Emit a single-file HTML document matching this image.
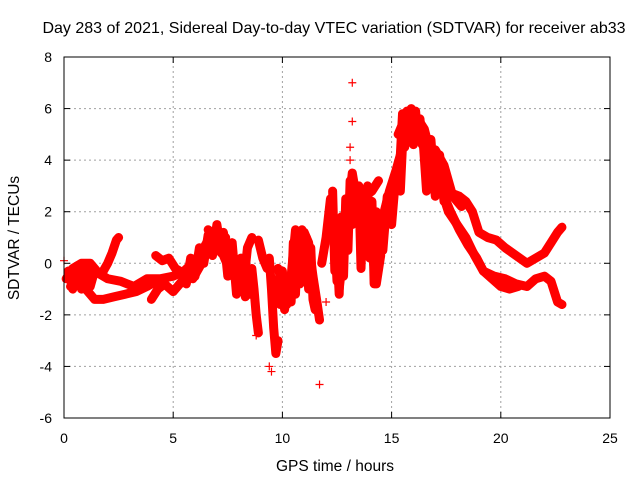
<!DOCTYPE html>
<html><head><meta charset="utf-8"><style>
html,body{margin:0;padding:0;background:#fff}
svg{display:block;font-family:"Liberation Sans",sans-serif}
</style></head><body>
<svg id="chart" width="640" height="480" viewBox="0 0 640 480">
<rect x="0" y="0" width="640" height="480" fill="#fff"/>
<text x="334" y="33" text-anchor="middle" font-size="16" fill="#000">Day 283 of 2021, Sidereal Day-to-day VTEC variation (SDTVAR) for receiver ab33</text>
<g id="grid"></g>
<g id="marks"></g>
<rect x="64" y="57" width="546" height="361" fill="none" stroke="#000" stroke-width="1"/>
<g id="ticks"></g>
<text x="335" y="471" text-anchor="middle" font-size="15.5">GPS time / hours</text>
<text transform="translate(19,238) rotate(-90)" text-anchor="middle" font-size="15.5">SDTVAR / TECUs</text>
</svg>
<script>
const xTicks = [0,5,10,15,20,25];
const yTicks = [-6,-4,-2,0,2,4,6,8];
// satellite arcs: times (hours) and values (TECU)
const times1 = [0.1,0.4,0.8,1.2,1.6,2.0,2.6,3.2,3.8,4.4,5.0,5.5,6.0,6.4,6.8,7.2];
const values1 = [-0.6,-0.2,0.0,0.0,-0.4,-0.6,-0.7,-0.9,-0.6,-0.6,-0.5,-0.3,0.1,0.6,1.2,1.0];
const times2 = [0.3,0.6,1.0,1.4,1.8,2.3,2.8,3.3,3.8,4.2];
const values2 = [-0.9,-0.8,-1.0,-1.4,-1.4,-1.3,-1.2,-1.1,-0.9,-0.7];
const times3 = [1.8,2.0,2.2,2.4,2.5];
const values3 = [-0.3,0.0,0.4,0.9,1.0];
const times4 = [4.2,4.5,4.8,5.1,5.5,5.9,6.3];
const values4 = [0.3,0.1,0.2,-0.2,-0.4,-0.6,0.0];
const times5 = [4.0,4.3,4.6,5.0,5.4];
const values5 = [-1.4,-1.0,-0.8,-1.1,-0.7];
const times6 = [6.6,7.0,7.3,7.6,8.0,8.3,8.6];
const values6 = [1.3,1.0,0.3,-0.3,-0.8,-1.2,-1.2];
const times7 = [7.1,7.4,7.6,7.9,8.2,8.4,8.6];
const values7 = [0.9,0.7,0.2,-0.4,-1.0,0.6,1.0];
const times8 = [8.6,8.7,8.8,8.9];
const values8 = [-0.2,-1.0,-2.0,-2.7];
const times9 = [8.9,9.1,9.3];
const values9 = [0.9,0.2,-0.2];
const times10 = [9.4,9.5,9.6,9.7,9.8];
const values10 = [0.2,-1.0,-2.5,-3.5,-3.0];
const times11 = [9.8,10.0,10.2,10.4,10.6];
const values11 = [-0.2,-0.8,-1.6,-0.5,1.3];
const times12 = [10.3,10.5,10.8,11.0,11.2,11.4,11.6,11.7];
const values12 = [-1.0,-0.2,1.0,1.2,0.8,-0.5,-1.6,-2.2];
const times13 = [11.8,12.0,12.2,12.4,12.5];
const values13 = [0.0,1.0,2.5,1.0,-0.7];
const times14 = [12.6,12.8,13.0,13.2,13.4,13.6];
const values14 = [-1.0,0.5,2.0,3.5,2.5,1.0];
const times15 = [13.7,13.9,14.1,14.3,14.5];
const values15 = [2.6,1.5,0.5,-0.8,0.3];
const times16 = [14.3,14.6,14.9,15.2,15.5];
const values16 = [1.0,1.8,2.8,3.6,4.5];
const times17 = [13.8,14.1,14.4];
const values17 = [2.6,2.8,3.2];
const times18 = [15.3,15.6,15.9,16.2,16.5,16.8,17.1,17.4,17.7,18.1,18.5,18.9,19.2,19.6,20.0,20.4,20.8];
const values18 = [5.0,5.6,5.8,5.6,5.2,4.2,3.4,2.6,2.0,1.3,0.7,0.2,-0.3,-0.6,-0.9,-1.0,-0.9];
const times19 = [16.0,16.3,16.6,16.9,17.2,17.5,17.8,18.1,18.4,18.7,19.0,19.4,19.8,20.2,20.7,21.2,21.6,22.0,22.3,22.6,22.8];
const values19 = [5.0,4.9,4.8,4.3,3.5,3.0,2.7,2.6,2.4,2.0,1.2,1.0,0.9,0.6,0.3,0.0,0.2,0.4,0.8,1.2,1.4];
const times20 = [16.6,17.0,17.3,17.6,18.0,18.4,18.8,19.2,19.7,20.2,20.7,21.2,21.6,22.0,22.3,22.6,22.8];
const values20 = [4.6,3.8,2.8,2.0,1.5,1.0,0.3,-0.3,-0.5,-0.6,-0.8,-0.9,-0.6,-0.5,-0.7,-1.5,-1.6];
const times21 = [17.0,17.4,17.8,18.2];
const values21 = [4.4,3.8,2.6,2.2];
// dense scatter regions (zigzag reading of band extents)
const times22 = [0.2,0.4,0.6,0.8,1.0,1.2,1.4];
const values22 = [-0.3,-1.0,-0.1,-1.0,-0.2,-0.9,-0.3];
const times23 = [5.6,5.8,6.0,6.2,6.4,6.6,6.8,7.0,7.2,7.4];
const values23 = [-0.8,0.2,-0.5,0.6,0.0,1.1,0.3,1.5,0.4,1.0];
const times24 = [7.3,7.5,7.7,7.9,8.1,8.3,8.5];
const values24 = [1.2,-0.5,0.8,-1.2,0.2,-1.3,-0.5];
const times25 = [9.8,9.9,10.0,10.1,10.2,10.3];
const values25 = [-0.6,-1.6,-0.3,-1.8,-0.7,-1.4];
const times26 = [10.4,10.5,10.6,10.7,10.8,10.9,11.0,11.1,11.2,11.3,11.4,11.5];
const values26 = [-1.5,0.8,-1.2,1.2,-0.8,1.3,-0.5,1.0,-1.0,0.6,-1.4,-1.8];
const times27 = [12.3,12.4,12.5,12.6,12.7,12.8,12.9,13.0,13.1,13.2];
const values27 = [2.8,-0.3,0.5,-1.2,1.8,-0.5,2.5,0.5,3.2,1.5];
const times28 = [13.5,13.6,13.7,13.8,13.9,14.0,14.1,14.2,14.3];
const values28 = [3.0,-0.2,2.8,0.8,3.0,0.2,2.4,-0.8,2.0];
const times29 = [14.6,14.8,15.0,15.2,15.4,15.5];
const values29 = [0.5,2.6,1.5,3.5,2.8,4.6];
const times30 = [15.4,15.5,15.6,15.7,15.8,15.9,16.0,16.1,16.2,16.3,16.4];
const values30 = [4.2,5.8,4.5,5.9,4.8,6.0,4.6,5.9,4.8,5.6,4.6];
const times31 = [16.4,16.6,16.8,17.0,17.2,17.4];
const values31 = [5.3,2.8,4.8,2.6,4.2,2.4];
const outlierTimes = [0.0,13.2,13.2,13.1,11.7,9.5,12.0,13.1,8.8,9.4];
const outlierValues = [0.1,7.0,5.5,4.5,-4.7,-4.2,-1.5,4.0,-2.8,-4.0];

const arcTimes = [times1,times2,times3,times4,times5,times6,times7,times8,times9,times10,times11,times12,times13,times14,times15,times16,times17,times18,times19,times20,times21,times22,times23,times24,times25,times26,times27,times28,times29,times30,times31];
const arcValues = [values1,values2,values3,values4,values5,values6,values7,values8,values9,values10,values11,values12,values13,values14,values15,values16,values17,values18,values19,values20,values21,values22,values23,values24,values25,values26,values27,values28,values29,values30,values31];

const NS='http://www.w3.org/2000/svg';
const X0=64,X1=610,Y0=418,Y1=57;
function xs(t){return X0+(t-0)/(25-0)*(X1-X0);}
function ys(v){return Y0-(v-(-6))/(8-(-6))*(Y0-Y1);}
const grid=document.getElementById('grid'),ticks=document.getElementById('ticks'),marks=document.getElementById('marks');
function mk(tag,attrs,parent){const e=document.createElementNS(NS,tag);for(const k in attrs)e.setAttribute(k,attrs[k]);parent.appendChild(e);return e;}
xTicks.forEach(t=>{
  const x=xs(t);
  if(t>0&&t<25){const g=mk('line',{x1:x,y1:Y0,x2:x,y2:Y1,stroke:'#a0a0a0','stroke-dasharray':'2,3'},grid);
  
  }
  const a=mk('line',{x1:x,y1:Y0,x2:x,y2:Y0-6,stroke:'#000'},ticks);
  
  
  const b=mk('line',{x1:x,y1:Y1,x2:x,y2:Y1+6,stroke:'#000'},ticks);
  
  
  const l=mk('text',{x:x,y:443,'text-anchor':'middle','font-size':'14'},ticks);
  l.textContent=t;
  
  
});
yTicks.forEach(v=>{
  const y=ys(v);
  if(v>-6&&v<8){const g=mk('line',{x1:X0,y1:y,x2:X1,y2:y,stroke:'#a0a0a0','stroke-dasharray':'2,3'},grid);
  
  }
  const a=mk('line',{x1:X0,y1:y,x2:X0+6,y2:y,stroke:'#000'},ticks);
  
  
  const b=mk('line',{x1:X1,y1:y,x2:X1-6,y2:y,stroke:'#000'},ticks);
  
  
  const l=mk('text',{x:52,y:y+5,'text-anchor':'end','font-size':'14'},ticks);
  l.textContent=v;
  
  
});
function plus(t,v){
  const x=xs(t),y=ys(v);
  const p=mk('path',{d:`M${x-4},${y}H${x+4}M${x},${y-4}V${y+4}`,stroke:'#ff0000','stroke-width':'1.2',fill:'none'},marks);
  
  
}
arcTimes.forEach((ts,i)=>{
  const vs=arcValues[i];
  const pts=ts.map((t,j)=>xs(t)+','+ys(vs[j])).join(' ');
  const pl=mk('polyline',{points:pts,fill:'none',stroke:'#ff0000','stroke-width':'9','stroke-linejoin':'round','stroke-linecap':'round'},marks);
  
  
  ts.forEach((t,j)=>plus(t,vs[j]));
});
outlierTimes.forEach((t,i)=>plus(t,outlierValues[i]));
</script>
</body></html>
